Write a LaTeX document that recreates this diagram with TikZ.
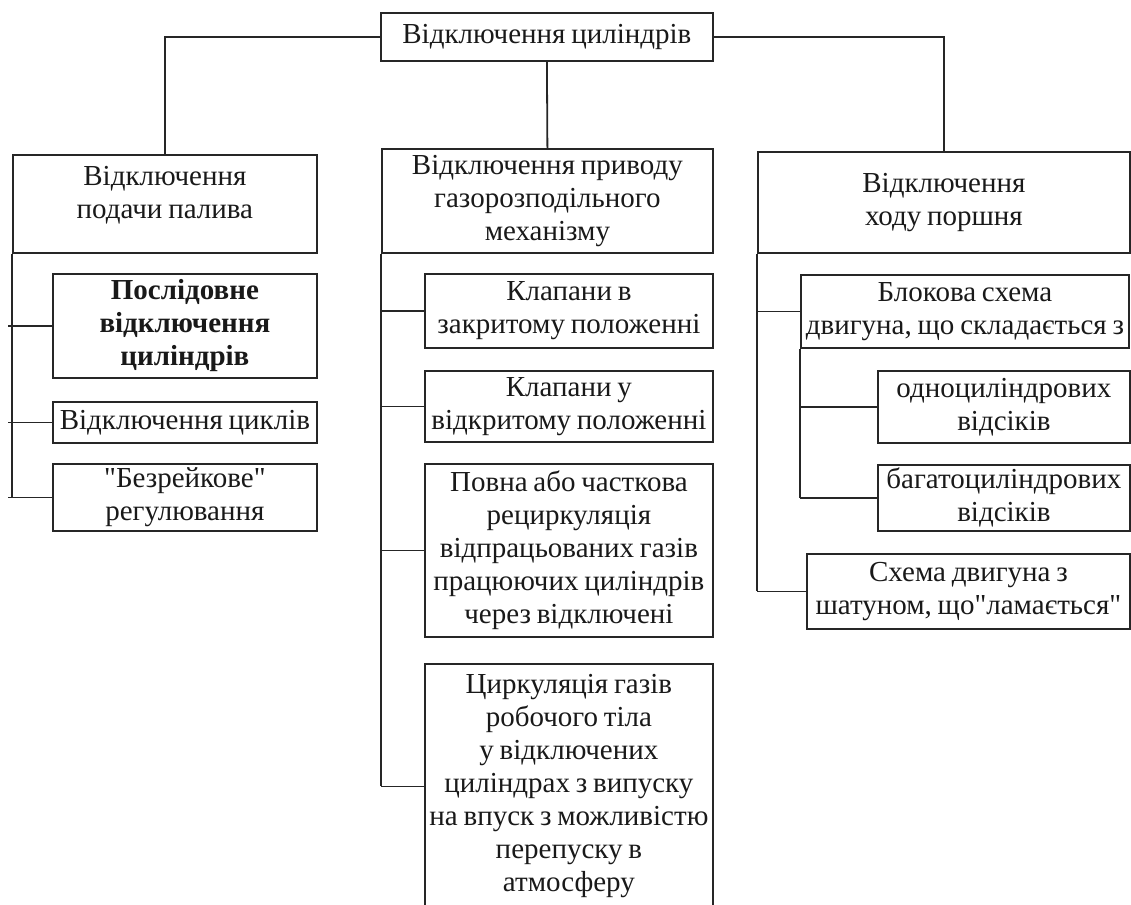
\documentclass[tikz,border=0pt]{standalone}
\usepackage{fontspec}
\setmainfont{Liberation Serif}[Ligatures=TeXOff, WordSpace=0.8]
\begin{document}
\begin{tikzpicture}[x=1pt,y=-1pt,
  box/.style={draw=black!85, line width=1.8pt, inner sep=0pt, align=center, anchor=north west,
    font=\fontsize{29}{33}\selectfont, text=black!90},
  link/.style={draw=black!85, line width=1.8pt}]
\useasboundingbox (0,0) rectangle (1131,904);
\clip (0,0) rectangle (1131,904);
% top
\node[box, minimum width=332, minimum height=48] (T) at (380,12) {Відключення циліндрів};
% left column
\node[box, minimum width=304, minimum height=98] (L1) at (12,154) {Відключення\\подачи палива\\[-10pt]};
\node[box, minimum width=264, minimum height=104, font=\fontsize{29}{33}\selectfont\bfseries] (L2) at (52,273) {Послідовне\\відключення\\циліндрів};
\node[box, minimum width=264, minimum height=41] (L3) at (52,401) {Відключення циклів};
\node[box, minimum width=264, minimum height=67] (L4) at (52,463) {"Безрейкове"\\регулювання};
% middle column
\node[box, minimum width=331, minimum height=104] (M1) at (381,148) {Відключення приводу\\газорозподільного\\механізму};
\node[box, minimum width=288, minimum height=74] (M2) at (424,273) {Клапани в\\закритому положенні};
\node[box, minimum width=288, minimum height=71] (M3) at (424,370) {Клапани у\\відкритому положенні};
\node[box, minimum width=288, minimum height=173] (M4) at (424,463) {Повна або часткова\\рециркуляція\\відпрацьованих газів\\працюючих циліндрів\\через відключені};
\node[box, minimum width=288, minimum height=245] (M5) at (424,663) {Циркуляція газів\\робочого тіла\\у відключених\\циліндрах з випуску\\на впуск з можливістю\\перепуску в\\атмосферу};
% right column
\node[box, minimum width=372, minimum height=101] (R1) at (757,151) {Відключення\\ходу поршня};
\node[box, minimum width=328, minimum height=73] (R2) at (800,274) {Блокова схема\\двигуна, що складається з};
\node[box, minimum width=252, minimum height=72] (R3) at (877,370) {одноциліндрових\\відсіків};
\node[box, minimum width=252, minimum height=66] (R4) at (877,464) {багатоциліндрових\\відсіків};
\node[box, minimum width=323, minimum height=75] (R5) at (806,553) {Схема двигуна з\\шатуном, що"ламається"};
% top connectors
\draw[link] (T.west) -| (L1.north);
\draw[link] (T.east) -| (R1.north);
\draw[link] (T.south) -- (M1.north);
% left spine
\draw[link] (L1.south west) -- (L1.south west |- L4.west);
\foreach \n in {L2,L3,L4} \draw[link] ([xshift=-4pt]L1.south west |- \n.west) -- (\n.west);
% middle spine
\draw[link] (M1.south west) -- (M1.south west |- M5.west);
\foreach \n in {M2,M3,M4,M5} \draw[link] (M1.south west |- \n.west) -- (\n.west);
% right spine
\draw[link] (R1.south west) -- (R1.south west |- R5.west);
\foreach \n in {R2,R5} \draw[link] (R1.south west |- \n.west) -- (\n.west);
\draw[link] (R2.south west) -- (R2.south west |- R4.west);
\foreach \n in {R3,R4} \draw[link] (R2.south west |- \n.west) -- (\n.west);
\end{tikzpicture}
\end{document}
